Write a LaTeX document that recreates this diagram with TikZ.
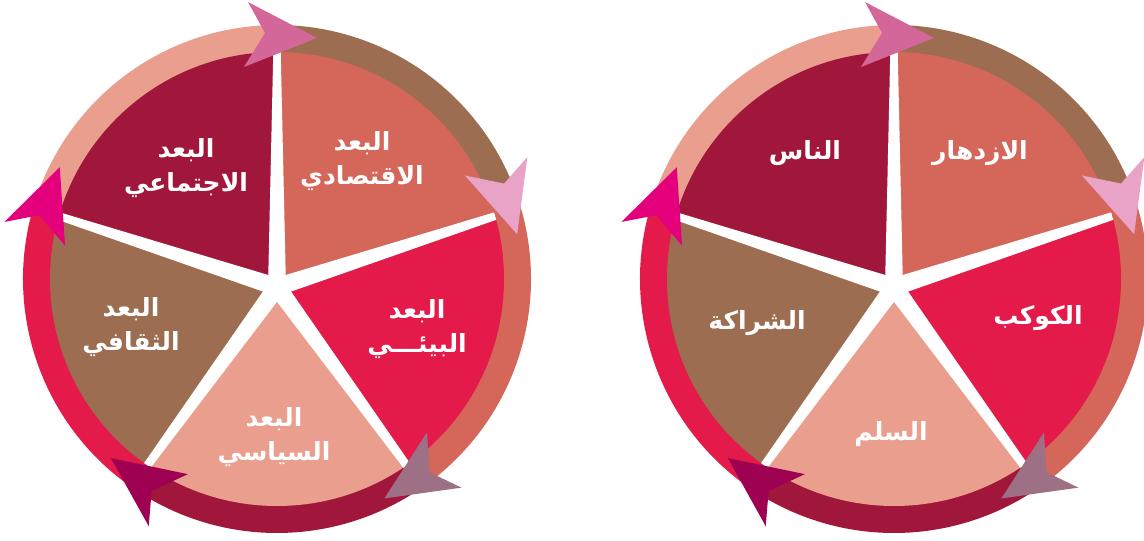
\documentclass[tikz,border=0pt]{standalone}
\usepackage{fontspec}
\newfontfamily\arabicfont[Script=Arabic]{DejaVu Sans}
\TeXXeTstate=1
\definecolor{wine}{HTML}{A1173C}
\definecolor{coral}{HTML}{D4665A}
\definecolor{rose}{HTML}{E31A4A}
\definecolor{salmon}{HTML}{EA9E8E}
\definecolor{mocha}{HTML}{9C6D50}
\definecolor{orchid}{HTML}{D4679A}
\definecolor{blush}{HTML}{E9A3C6}
\definecolor{mauve}{HTML}{9E7086}
\definecolor{plum}{HTML}{9E0052}
\definecolor{fuchsia}{HTML}{E4007C}
\tikzset{
  label/.style={text=white, align=center, inner sep=0pt,
    font=\arabicfont\bfseries\fontsize{25}{34}\selectfont}
}
\begin{document}
\begin{tikzpicture}[x=1pt,y=1pt]
    \useasboundingbox (0,0) rectangle (1144,541);

    \foreach \dx in {277,894} {
      \begin{scope}[shift={(\dx,262)}]
        \foreach \col/\from/\to in {salmon/89/161, mocha/19/89, coral/-56/19, wine/-125/-56, rose/161/235}
          \fill[\col] (\from:254) arc[start angle=\from, end angle=\to, radius=254]
            -- (\to:225) arc[start angle=\to, end angle=\from, radius=225] -- cycle;

        \begin{scope}
          \clip (0,0) circle[radius=227];
          \begin{scope}[shift={(0,-8)}]
            \foreach \col/\a in {wine/90, coral/18, rose/-54, salmon/-126, mocha/162}
              \fill[\col] (0,0) -- (\a:300) arc[start angle=\a, delta angle=72, radius=300] -- cycle;
            \foreach \a in {90,18,-54,-126,162}
              \fill[white, rotate=\a] (-1,9) -- (-1,-9) -- (245,-3.5) -- (245,3.5) -- cycle;
          \end{scope}
        \end{scope}

        \foreach \col/\t in {orchid/90, blush/20, mauve/-54.5, plum/-123.4, fuchsia/162.2}
          \fill[\col, shift={(\t:245)}, rotate=\t-90] (40,-4) -- (-29,32) -- (-12,1) -- (-33,-33) -- cycle;
      \end{scope}
    }

    \begin{scope}[every node/.style={label}]
      \node (social)      at (186,373) {\beginR البعد\endR\\\beginR الاجتماعي\endR};
      \node (economic)    at (362,380) {\beginR البعد\endR\\\beginR الاقتصادي\endR};
      \node (environment) at (417,212) {\beginR البعد\endR\\\beginR البيئـــي\endR};
      \node (political)   at (274,104) {\beginR البعد\endR\\\beginR السياسي\endR};
      \node (cultural)    at (131,214) {\beginR البعد\endR\\\beginR الثقافي\endR};

      \node (people)      at (805,388) {\beginR الناس\endR};
      \node (prosperity)  at (980,388) {\beginR الازدهار\endR};
      \node (planet)      at (1038,223) {\beginR الكوكب\endR};
      \node (peace)       at (891,107) {\beginR السلم\endR};
      \node (partnership) at (757,218) {\beginR الشراكة\endR};
    \end{scope}

\end{tikzpicture}
\end{document}
